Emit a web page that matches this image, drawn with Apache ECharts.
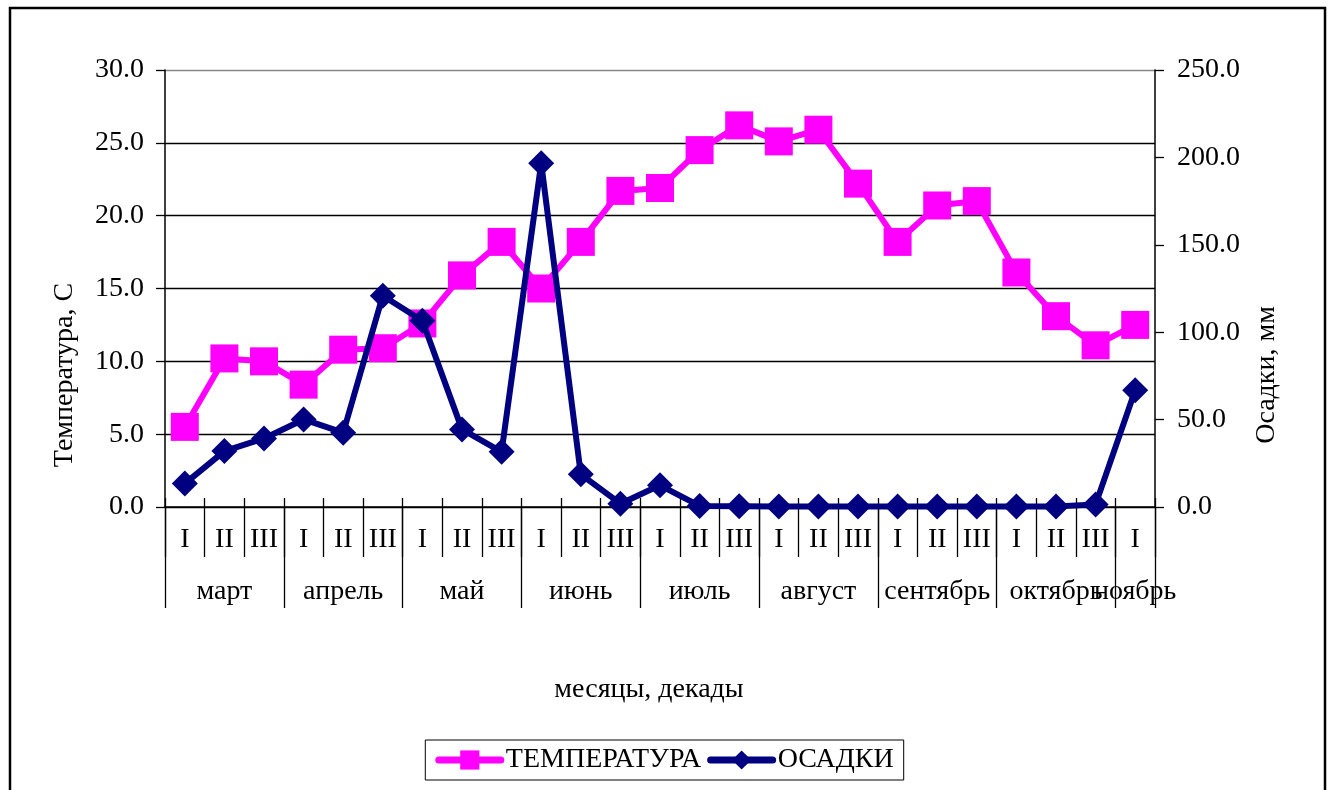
<!DOCTYPE html>
<html>
<head>
<meta charset="utf-8">
<script src="https://cdn.jsdelivr.net/npm/echarts@6/dist/echarts.min.js"></script>
<style>
  html, body { margin: 0; padding: 0; background: #fff; }
  #chart { width: 1329px; height: 790px; }
</style>
</head>
<body>
<div id="chart"></div>
<script>
// Decades within each month (Roman numerals) and the month names
const months = ['март', 'апрель', 'май', 'июнь', 'июль', 'август', 'сентябрь', 'октябрь', 'ноябрь'];
const decadesPerMonth = [3, 3, 3, 3, 3, 3, 3, 3, 1];
const decadeNames = ['I', 'II', 'III'];

// Mean decade air temperature, °C
const temperature = [5.5, 10.2, 10.0, 8.4, 10.8, 10.9, 12.6, 15.9, 18.2, 15.0, 18.2, 21.7, 21.9,
                     24.5, 26.2, 25.1, 25.9, 22.2, 18.2, 20.7, 21.0, 16.1, 13.1, 11.1, 12.5];
// Decade precipitation totals, mm
const precipitation = [13.4, 32.0, 39.2, 50.1, 42.5, 120.9, 106.6, 44.4, 31.6, 196.7, 18.7, 1.9, 12.4,
                       0.6, 0.5, 0.3, 0.3, 0.3, 0.3, 0.3, 0.3, 0.3, 0.3, 1.5, 66.8];

// Build per-decade category arrays plus month label / boundary indexes
const decadeCats = [];
const monthCats = [];
const monthLabelIdx = new Set();
const monthStartIdx = new Set();
months.forEach((m, mi) => {
  const n = decadesPerMonth[mi];
  const start = decadeCats.length;
  monthStartIdx.add(start);
  monthLabelIdx.add(start + Math.floor((n - 1) / 2));
  for (let d = 0; d < n; d++) {
    decadeCats.push(decadeNames[d]);
    monthCats.push(m);
  }
});
const lastIdx = decadeCats.length - 1;

const FONT = 'Liberation Serif';
const FS = 28;
const BLACK = '#000';

const monthLabelStyle = { color: '#000', fontFamily: FONT, fontSize: FS, margin: 71, hideOverlap: false };

const chart = echarts.init(document.getElementById('chart'), null, { renderer: 'canvas' });

chart.setOption({
  animation: false,
  backgroundColor: '#fff',
  textStyle: { fontFamily: FONT },
  grid: { left: 165, right: 174, top: 70, bottom: 283, containLabel: false },
  graphic: [
    { type: 'rect', shape: { x: 10, y: 8, width: 1315, height: 800 }, style: { fill: 'none', stroke: '#000', lineWidth: 2.5 }, silent: true },
    { type: 'text', x: 65, y: 375, rotation: Math.PI / 2,
      style: { text: 'Температура, С', font: FS + 'px "' + FONT + '"', fill: '#000', align: 'center', verticalAlign: 'middle' } },
    { type: 'text', x: 1267, y: 375, rotation: Math.PI / 2,
      style: { text: 'Осадки, мм', font: FS + 'px "' + FONT + '"', fill: '#000', align: 'center', verticalAlign: 'middle' } },
    { type: 'text', x: 649, y: 690,
      style: { text: 'месяцы, декады', font: FS + 'px "' + FONT + '"', fill: '#000', align: 'center', verticalAlign: 'middle' } }
  ],
  legend: {
    bottom: 10,
    left: 'center',
    itemWidth: 62,
    itemHeight: 24,
    itemGap: 6,
    padding: [6, 10, 6, 10],
    borderColor: '#000',
    borderWidth: 1,
    lineStyle: { width: 7, cap: 'round' },
    textStyle: { fontFamily: FONT, fontSize: FS, color: '#000', padding: [0, 0, 0, 0] },
    data: ['ТЕМПЕРАТУРА', 'ОСАДКИ']
  },
  xAxis: [
    {
      // decades I, II, III
      type: 'category',
      data: decadeCats,
      position: 'bottom',
      boundaryGap: true,
      axisLine: { show: true, lineStyle: { color: BLACK, width: 1.5 } },
      axisTick: { show: true, interval: 0, length: 50, lineStyle: { color: BLACK, width: 1.3 } },
      axisLabel: { interval: 0, margin: 19, color: '#000', fontFamily: FONT, fontSize: FS },
      splitLine: { show: false }
    },
    {
      // month names and month separators
      type: 'category',
      data: monthCats,
      position: 'bottom',
      boundaryGap: true,
      axisLine: { show: false },
      axisTick: { show: true, length: 101, interval: (i) => monthStartIdx.has(i), lineStyle: { color: BLACK, width: 1.3 } },
      axisLabel: Object.assign({ interval: (i) => monthLabelIdx.has(i) && i !== lastIdx }, monthLabelStyle),
      splitLine: { show: false }
    },
    {
      // the final, single-decade month gets its own label layer
      type: 'category',
      data: monthCats,
      position: 'bottom',
      boundaryGap: true,
      axisLine: { show: false },
      axisTick: { show: false },
      axisLabel: Object.assign({ interval: (i) => i === lastIdx, showMaxLabel: true }, monthLabelStyle),
      splitLine: { show: false }
    },
    {
      // short tick stubs crossing the axis line
      type: 'category',
      data: decadeCats,
      position: 'bottom',
      boundaryGap: true,
      axisLine: { show: false },
      axisTick: { show: true, inside: true, interval: 0, length: 9, lineStyle: { color: BLACK, width: 1.3 } },
      axisLabel: { show: false },
      splitLine: { show: false }
    }
  ],
  yAxis: [
    {
      type: 'value',
      min: 0, max: 30, interval: 5,
      position: 'left',
      axisLine: { show: true, lineStyle: { color: BLACK, width: 1.5 } },
      axisTick: { show: true, length: 9, lineStyle: { color: BLACK, width: 1.3 } },
      axisLabel: { margin: 21, color: '#000', fontFamily: FONT, fontSize: FS, formatter: (v) => v.toFixed(1) },
      splitLine: { show: true, lineStyle: { color: ['#000', '#000', '#000', '#000', '#000', '#000', '#888'], width: 1.3 } }
    },
    {
      type: 'value',
      min: 0, max: 250, interval: 50,
      position: 'right',
      axisLine: { show: true, lineStyle: { color: BLACK, width: 1.5 } },
      axisTick: { show: true, length: 9, lineStyle: { color: BLACK, width: 1.3 } },
      axisLabel: { margin: 22, color: '#000', fontFamily: FONT, fontSize: FS, formatter: (v) => v.toFixed(1) },
      splitLine: { show: false }
    }
  ],
  series: [
    {
      name: 'ТЕМПЕРАТУРА',
      type: 'line',
      xAxisIndex: 0,
      yAxisIndex: 0,
      data: temperature,
      symbol: 'rect',
      symbolSize: 28,
      lineStyle: { color: '#FF00FF', width: 6 },
      itemStyle: { color: '#FF00FF' },
      z: 3
    },
    {
      name: 'ОСАДКИ',
      type: 'line',
      xAxisIndex: 0,
      yAxisIndex: 1,
      data: precipitation,
      symbol: 'diamond',
      symbolSize: 26,
      lineStyle: { color: '#000080', width: 6 },
      itemStyle: { color: '#000080' },
      z: 4
    }
  ]
});
</script>
</body>
</html>
